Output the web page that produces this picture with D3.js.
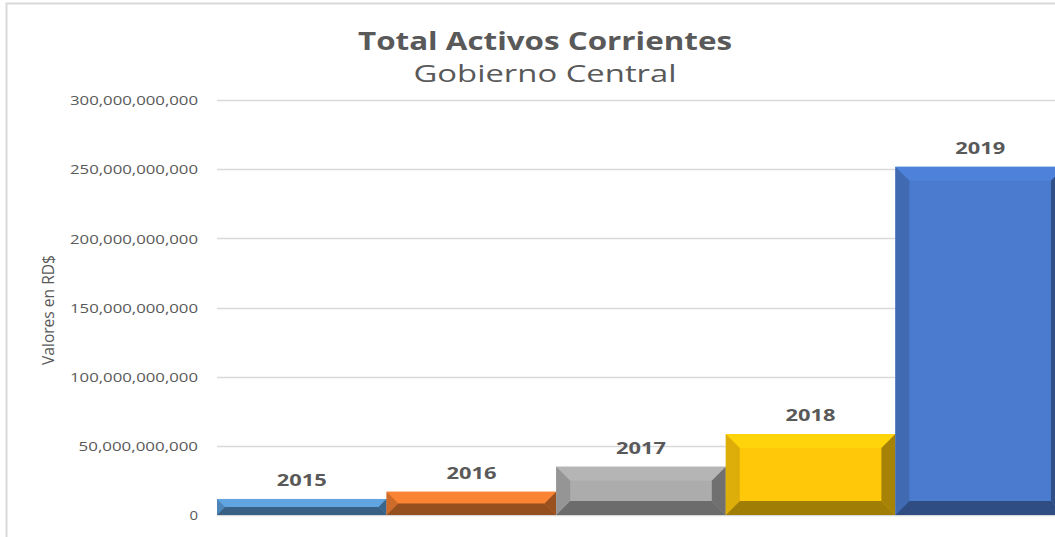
<!DOCTYPE html>
<html><head><meta charset="utf-8">
<script src="https://cdn.jsdelivr.net/npm/d3@7"></script>
<style>html,body{margin:0;padding:0;background:#fff;overflow:hidden}</style>
</head><body>
<svg id="c" width="1055" height="537"></svg>
<script>
const years = ["2015","2016","2017","2018","2019"];
const values = [11.6e9, 16.8e9, 34.9e9, 58.5e9, 251.7e9];
const colors = ["#5b9bd5","#ed7d31","#acacac","#ffc90a","#4a7bcf"];
const tickValues = [0, 50e9, 100e9, 150e9, 200e9, 250e9, 300e9];
const titleText = "Total Activos Corrientes";
const subtitleText = "Gobierno Central";
const yTitle = "Valores en RD$";

const svg = d3.select("#c");
const FONT = "'Open Sans', sans-serif";
const m = {left:217, top:100, bottom:515};
const bandW = 169.6;
const x = d3.scaleBand().domain(years).range([m.left, m.left + bandW*years.length]).padding(0);
const y = d3.scaleLinear().domain([0,300e9]).range([m.bottom, m.top]);

// frame
svg.append("path").attr("d","M6.5,537 L6.5,3.5 L1055,3.5").attr("fill","none").attr("stroke","#d9d9d9").attr("stroke-width",2);

// gridlines
svg.append("g").selectAll("line").data(tickValues).join("line")
  .attr("x1",m.left).attr("x2",1055).attr("y1",d=>Math.round(y(d))+0.5).attr("y2",d=>Math.round(y(d))+0.5)
  .attr("stroke","#d9d9d9").attr("stroke-width",1.3);

// axis
const fmt = d3.format(",");
const ax = d3.axisLeft(y).tickValues(tickValues).tickFormat(d=>fmt(d)).tickSize(0).tickPadding(19);
const g = svg.append("g").attr("transform",`translate(${m.left},0)`).call(ax);
g.select(".domain").remove();
g.selectAll("text").attr("fill","#595959").style("font-family",FONT).style("font-size","13px")
  .attr("dy","0.36em")
  .each(function(d){ const n = fmt(d).length; d3.select(this).attr("textLength", 128*n/15).attr("lengthAdjust","spacingAndGlyphs"); });

// bars with bevel
const bars = svg.append("g");
years.forEach((yr,i)=>{
  const x0 = x(yr), x1 = x(yr)+x.bandwidth();
  const y0 = y(values[i]), y1 = y(0);
  const h = y1-y0, w = x1-x0;
  const b = Math.min(14, h/2, w/2);
  const c = d3.color(colors[i]);
  const gg = bars.append("g");
  gg.append("rect").attr("x",x0).attr("y",y0).attr("width",w).attr("height",h).attr("fill",colors[i]);
  const poly = (pts, fill)=>gg.append("polygon").attr("points",pts.map(p=>p.join(",")).join(" ")).attr("fill",fill);
  poly([[x0,y0],[x1,y0],[x1-b,y0+b],[x0+b,y0+b]], c.brighter(0.15));
  poly([[x0,y0],[x0+b,y0+b],[x0+b,y1-b],[x0,y1]], c.darker(0.4));
  poly([[x1,y0],[x1-b,y0+b],[x1-b,y1-b],[x1,y1]], c.darker(1.2));
  poly([[x0,y1],[x1,y1],[x1-b,y1-b],[x0+b,y1-b]], c.darker(1.3));
  gg.append("text").attr("x",(x0+x1)/2).attr("y",y0-13).attr("text-anchor","middle")
    .attr("fill","#595959").style("font-family",FONT).style("font-weight","bold").style("font-size","15.5px")
    .attr("textLength",50).attr("lengthAdjust","spacingAndGlyphs")
    .text(yr);
});

// titles
svg.append("text").attr("x",545).attr("y",50).attr("text-anchor","middle").attr("fill","#595959")
  .style("font-family",FONT).style("font-weight","bold").style("font-size","25px")
  .attr("textLength",374).attr("lengthAdjust","spacingAndGlyphs").text(titleText);
svg.append("text").attr("x",545).attr("y",82).attr("text-anchor","middle").attr("fill","#595959")
  .style("font-family",FONT).style("font-size","24px")
  .attr("textLength",263).attr("lengthAdjust","spacingAndGlyphs").text(subtitleText);
svg.append("text").attr("transform","translate(54,310) rotate(-90)").attr("text-anchor","middle").attr("fill","#595959")
  .style("font-family",FONT).style("font-size","17px").attr("textLength",110).attr("lengthAdjust","spacingAndGlyphs").text(yTitle);
</script>
</body></html>
